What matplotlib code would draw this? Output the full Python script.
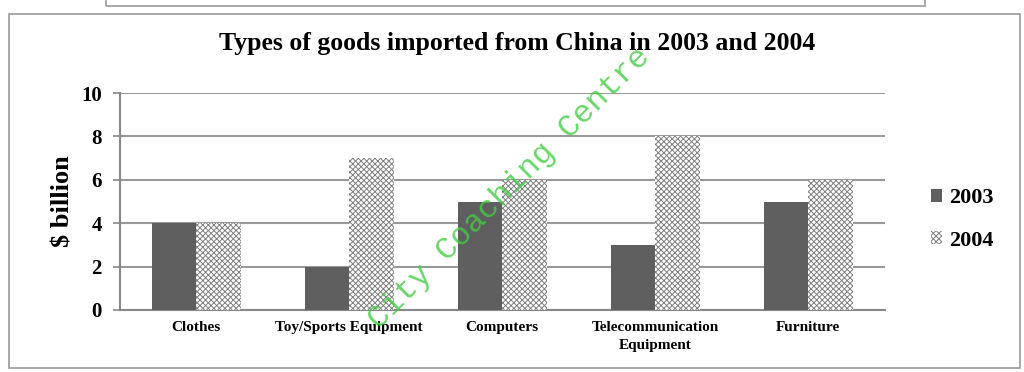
import matplotlib
matplotlib.use("Agg")
import matplotlib.pyplot as plt
import numpy as np
from matplotlib.patches import Rectangle

categories = ["Clothes", "Toy/Sports Equipment", "Computers",
              "Telecommunication\nEquipment", "Furniture"]
vals_2003 = [4, 2, 5, 3, 5]
vals_2004 = [4, 7, 6, 8, 6]
series_names = ["2003", "2004"]
yticks = [0, 2, 4, 6, 8, 10]

plt.rcParams["font.family"] = ["Liberation Serif", "DejaVu Serif"]
plt.rcParams["hatch.linewidth"] = 0.7

fig = plt.figure(figsize=(10.24, 3.72), dpi=100)
ax = fig.add_axes([0.117, 0.1667, 0.747, 0.583])

x = np.arange(len(categories))
w = 0.29
ax.bar(x - w / 2, vals_2003, w, color="#5f5f5f", label=series_names[0], zorder=3)
ax.bar(x + w / 2, vals_2004, w, color="white", edgecolor="#808080", hatch="xxxxxx",
       linewidth=0, label=series_names[1], zorder=3)

ax.set_xlim(-0.5, len(categories) - 0.5)
ax.set_ylim(0, 10)
ax.set_yticks(yticks)
ax.set_yticklabels([str(t) for t in yticks], fontsize=15, fontweight="bold")
ax.set_xticks(x)
ax.set_xticklabels(categories, fontsize=11, fontweight="bold", linespacing=1.5)
ax.tick_params(axis="x", length=0, pad=8)
ax.tick_params(axis="y", length=5, color="#888888", width=1.2, pad=8)
ax.grid(axis="y", color="#999999", lw=1.5, zorder=0)
for s in ["top", "right"]:
    ax.spines[s].set_visible(False)
for s in ["left", "bottom"]:
    ax.spines[s].set_color("#888888")
    ax.spines[s].set_linewidth(1.5)
ax.set_ylabel("$ billion", fontsize=19, fontweight="bold", labelpad=5)

fig.suptitle("Types of goods imported from China in 2003 and 2004", x=0.505, y=0.915,
             fontsize=18.5, fontweight="bold")

fig.legend(loc="center left", bbox_to_anchor=(0.89, 0.41), frameon=False,
           prop={"weight": "bold", "size": 16},
           handlelength=0.5, handleheight=0.5, handletextpad=0.3, labelspacing=1.0)

# outer frames
fig.patches.append(Rectangle((9 / 1024, 4 / 372), 1011 / 1024, 354 / 372,
                             transform=fig.transFigure, fill=False,
                             edgecolor="#9a9a9a", lw=1.2))
fig.patches.append(Rectangle((106 / 1024, 366 / 372), 819 / 1024, 20 / 372,
                             transform=fig.transFigure, fill=False,
                             edgecolor="#9a9a9a", lw=1.2))

# watermark
fig.text(0.498, 0.495, "City Coaching Centre", rotation=45, fontsize=23,
         color="#44cc44", alpha=0.8, family=["Liberation Mono", "DejaVu Sans Mono"],
         fontweight="light", ha="center", va="center")

fig.savefig("out.png", dpi=100)
